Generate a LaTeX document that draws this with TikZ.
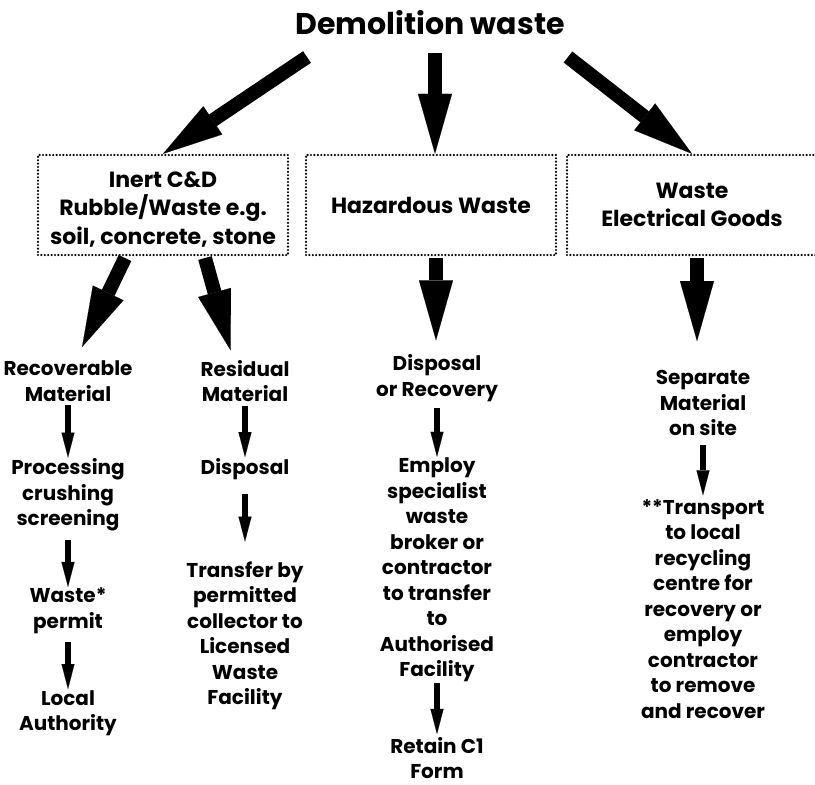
\documentclass[tikz,border=0pt]{standalone}
\usepackage{fontspec}
\setmainfont{Poppins}
\usetikzlibrary{arrows.meta,positioning,calc}

\begin{document}
\begin{tikzpicture}[x=1pt,y=-1pt,
		wastebox/.style={draw, line width=2.4pt, dash pattern=on 0pt off 3.4pt, line cap=round,
			minimum width=250pt, minimum height=100pt, align=center,
			font=\fontsize{22}{28.5}\selectfont\bfseries},
		flowtext/.style={align=center, inner sep=1pt, font=\fontsize{20}{25.5}\selectfont\bfseries},
		bigarrow/.style={line width=14pt, -{Triangle[width=34pt,length=60pt,line width=0.1pt]}},
		smallarrow/.style={line width=6pt, -{Triangle[width=13pt,length=25pt,line width=0.1pt]}}]
		\clip (0,0) rectangle (815,785);

		\node[font=\fontsize{30}{36}\selectfont\bfseries] (title) at (430,23) {Demolition waste};

		\node[wastebox] (inert) at (163,205) {\rule{0pt}{24pt}Inert C\&D\\Rubble/Waste e.g.\\soil, concrete, stone};
		\node[wastebox] (hazard) at (431,205) {Hazardous Waste};
		\node[wastebox] (elec) at (692,205) {Waste\\Electrical Goods};

		% inert column
		\node[flowtext] (rec) at (68,381) {Recoverable\\Material};
		\node[flowtext] (proc) at (68,495) {Processing\\crushing\\screening};
		\node[flowtext] (permit) at (68,611) {Waste*\\permit};
		\node[flowtext] (local) at (68,713) {Local\\Authority};
		\node[flowtext] (res) at (245,381) {Residual\\Material};
		\node[flowtext] (disp) at (245,469) {Disposal};
		\node[flowtext] (transfer) at (245,636) {Transfer by\\permitted\\collector to\\Licensed\\Waste\\Facility};

		% hazardous column
		\node[flowtext] (dor) at (437,378) {Disposal\\or Recovery};
		\node[flowtext] (employ) at (437,570) {Employ\\specialist\\waste\\broker or\\contractor\\to transfer\\to\\Authorised\\Facility};
		\node[flowtext, inner sep=0pt] (retain) at (437,758) {Retain C1\\Form};

		% electrical column
		\node[flowtext] (sep) at (703,403) {Separate\\Material\\on site};
		\node[flowtext] (trans) at (703,609) {**Transport\\to local\\recycling\\centre for\\recovery or\\employ\\contractor\\to remove\\and recover};

		\coordinate (lt) at (307,57);
		\coordinate (mt) at (435,53);
		\coordinate (rt) at (568,57);
		\coordinate (ia) at (125,258);
		\coordinate (ib) at (205,258);
		\coordinate (hb) at (436,258);
		\coordinate (eb) at (697,258);

		\draw[bigarrow] (lt) -- (inert.north);
		\draw[bigarrow] (mt) -- (mt |- hazard.north);
		\draw[bigarrow] (rt) -- (elec.north);

		\draw[bigarrow, shorten >=14pt] (ia) -- ([xshift=8pt]rec.north);
		\draw[bigarrow, shorten >=9pt] (ib) -- ([xshift=-12pt]res.north);
		\draw[bigarrow, shorten >=13pt] (hb) -- (hb |- dor.north);
		\draw[bigarrow, shorten >=28pt] (eb) -- (eb |- sep.north);

		\draw[smallarrow, shorten <=3pt] (rec) -- (proc);
		\draw[smallarrow, shorten <=8pt] (proc) -- (permit);
		\draw[smallarrow, shorten <=7pt] (permit) -- (local);
		\draw[smallarrow, shorten <=3pt] (res) -- (disp);
		\draw[smallarrow, shorten <=13pt, shorten >=19pt] (disp) -- (transfer);
		\draw[smallarrow, shorten <=5pt] (dor) -- (employ);
		\draw[smallarrow, shorten >=3pt] (employ) -- (retain);
		\draw[smallarrow, shorten <=8pt, shorten >=3pt] (sep) -- (trans);
	\end{tikzpicture}
\end{document}
